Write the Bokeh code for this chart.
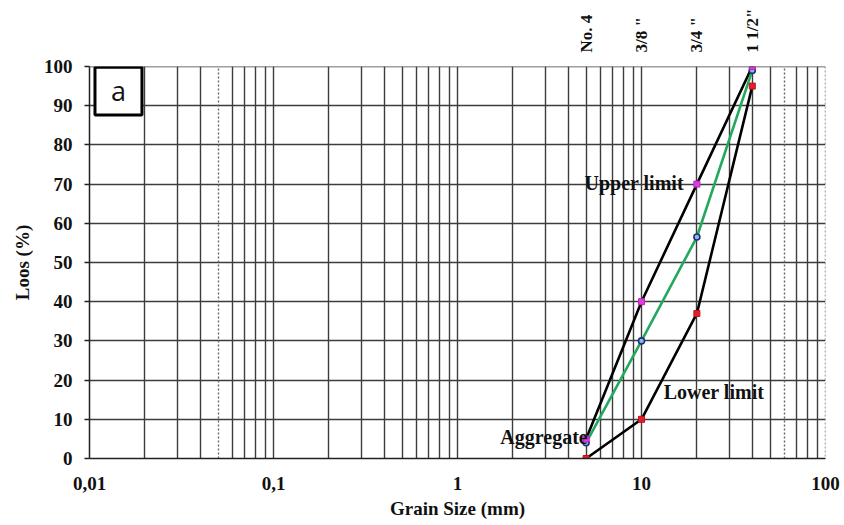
import math
from bokeh.plotting import figure
from bokeh.models import (FixedTicker, Grid, CustomJSTickFormatter, Label, Span,
                          BoxAnnotation, LogAxis)
from bokeh.embed import file_html
from bokeh.resources import INLINE

# ---- data ----
sieve_mm = [5, 10, 20, 40]
sieve_names = ["No. 4", "3/8 \"", "3/4 \"", "1 1/2\""]
upper_limit = [5, 40, 70, 100]
lower_limit = [0, 10, 37, 95]
aggregate = [4, 30, 56.5, 99]

x_major = [0.01, 0.1, 1, 10, 100]
x_major_labels = ["0,01", "0,1", "1", "10", "100"]
y_ticks = [0, 10, 20, 30, 40, 50, 60, 70, 80, 90, 100]

grid_solid = [0.02, 0.03, 0.04, 0.06, 0.07, 0.08, 0.09, 0.1,
              0.2, 0.3, 0.4, 0.5, 0.6, 0.7, 0.8, 0.9, 1,
              2, 3, 4, 5, 6, 7, 8, 9, 10,
              20, 30, 40, 50, 70, 80, 90]
grid_dotted = [0.05, 60]

SERIF = "Liberation Serif"
GRID_COLOR = "#3c3c3c"

LOOKUP_JS = """
for (let i = 0; i < vals.length; i++) {
  if (Math.abs(Math.log10(vals[i]) - Math.log10(tick)) < 1e-6) return names[i];
}
return '';
"""

p = figure(width=840, height=525, x_axis_type="log",
           x_range=(0.01, 100), y_range=(0, 100),
           output_backend="svg", toolbar_location=None,
           min_border_left=89, min_border_right=15,
           min_border_top=66, min_border_bottom=67)
p.outline_line_color = None
p.background_fill_color = "white"
p.border_fill_color = "white"

# grids
p.xgrid.ticker = FixedTicker(ticks=grid_solid)
p.xgrid.grid_line_color = GRID_COLOR
p.xgrid.grid_line_width = 1.4
p.ygrid.ticker = FixedTicker(ticks=y_ticks)
p.ygrid.grid_line_color = GRID_COLOR
p.ygrid.grid_line_width = 1.4
p.add_layout(Grid(dimension=0, ticker=FixedTicker(ticks=grid_dotted),
                  grid_line_color="#666666", grid_line_width=1.4,
                  grid_line_dash="2 2"))
p.add_layout(Span(location=100, dimension="height", line_color="#666666",
                  line_width=1.4, line_dash="2 2"))
p.add_layout(Span(location=100, dimension="width", line_color=GRID_COLOR,
                  line_width=1.4))

# y axis
p.yaxis.ticker = FixedTicker(ticks=y_ticks, minor_ticks=[])
p.yaxis.major_tick_in = 0
p.yaxis.major_tick_out = 5
p.yaxis.minor_tick_out = 0
p.yaxis.minor_tick_in = 0
p.yaxis.axis_line_width = 1.5
p.yaxis.axis_line_color = "#222222"
p.yaxis.major_tick_line_color = "#222222"
p.yaxis.major_tick_line_width = 1.4
p.yaxis.major_label_standoff = 12
p.yaxis.axis_label = "Loos (%)"
p.yaxis.axis_label_standoff = 8

# x axis (bottom)
p.xaxis.ticker = FixedTicker(ticks=x_major, minor_ticks=[])
p.xaxis.formatter = CustomJSTickFormatter(args=dict(vals=x_major, names=x_major_labels), code=LOOKUP_JS)
p.xaxis.major_tick_in = 0
p.xaxis.major_tick_out = 0
p.xaxis.minor_tick_in = 0
p.xaxis.minor_tick_out = 0
p.xaxis.axis_line_width = 1.5
p.xaxis.axis_line_color = "#222222"
p.xaxis.major_label_standoff = 18
p.xaxis.axis_label = "Grain Size (mm)"
p.xaxis.axis_label_standoff = 5

for ax in (p.xaxis, p.yaxis):
    ax.major_label_text_font = SERIF
    ax.major_label_text_font_style = "bold"
    ax.major_label_text_font_size = "19px"
    ax.major_label_text_color = "#111111"
    ax.axis_label_text_font = SERIF
    ax.axis_label_text_font_style = "bold"
    ax.axis_label_text_font_size = "19px"
    ax.axis_label_text_color = "#111111"

# sieve names on top
top_axis = LogAxis(ticker=FixedTicker(ticks=sieve_mm, minor_ticks=[]),
                   formatter=CustomJSTickFormatter(args=dict(vals=sieve_mm, names=sieve_names), code=LOOKUP_JS),
                   major_label_orientation=math.pi / 2,
                   axis_line_color=None, major_tick_out=0, major_tick_in=0,
                   minor_tick_out=0, minor_tick_in=0, major_label_standoff=14,
                   major_label_text_font=SERIF, major_label_text_font_style="bold",
                   major_label_text_font_size="17px", major_label_text_color="#111111")
p.add_layout(top_axis, "above")

# series
p.line(sieve_mm, upper_limit, line_color="black", line_width=2.6)
p.line(sieve_mm, lower_limit, line_color="black", line_width=2.6)
p.line(sieve_mm, aggregate, line_color="#23a85e", line_width=2.6)
p.scatter(sieve_mm, aggregate, marker="circle", size=6, fill_color="#8fb6e0", line_color="#1b2f7a", line_width=1.6)
p.scatter(sieve_mm, lower_limit, marker="square", size=6, fill_color="#e0202a", line_color="#c01018")
p.scatter(sieve_mm, upper_limit, marker="square", size=6, fill_color="#e03ce0", line_color="#c020c0")

# series labels
lab = dict(text_font=SERIF, text_font_style="bold", text_font_size="20px", text_color="#111111")
p.add_layout(Label(x=17, y=70.2, text="Upper limit", text_align="right", text_baseline="middle", **lab))
p.add_layout(Label(x=13.2, y=17, text="Lower limit", text_align="left", text_baseline="middle", **lab))
p.add_layout(Label(x=5.1, y=5.5, text="Aggregate", text_align="right", text_baseline="middle", **lab))

# panel tag "a"
p.add_layout(BoxAnnotation(left=0.01071, right=0.01928, bottom=87.6, top=99.8,
                           fill_color="white", fill_alpha=1.0,
                           line_color="black", line_alpha=1.0, line_width=3, level="annotation"))
p.add_layout(Label(x=0.01437, y=93.8, text="a", text_align="center", text_baseline="middle",
                   text_font="Open Sans", text_font_size="27px", text_color="#111111"))

open("out.html", "w").write(file_html(p, INLINE))
